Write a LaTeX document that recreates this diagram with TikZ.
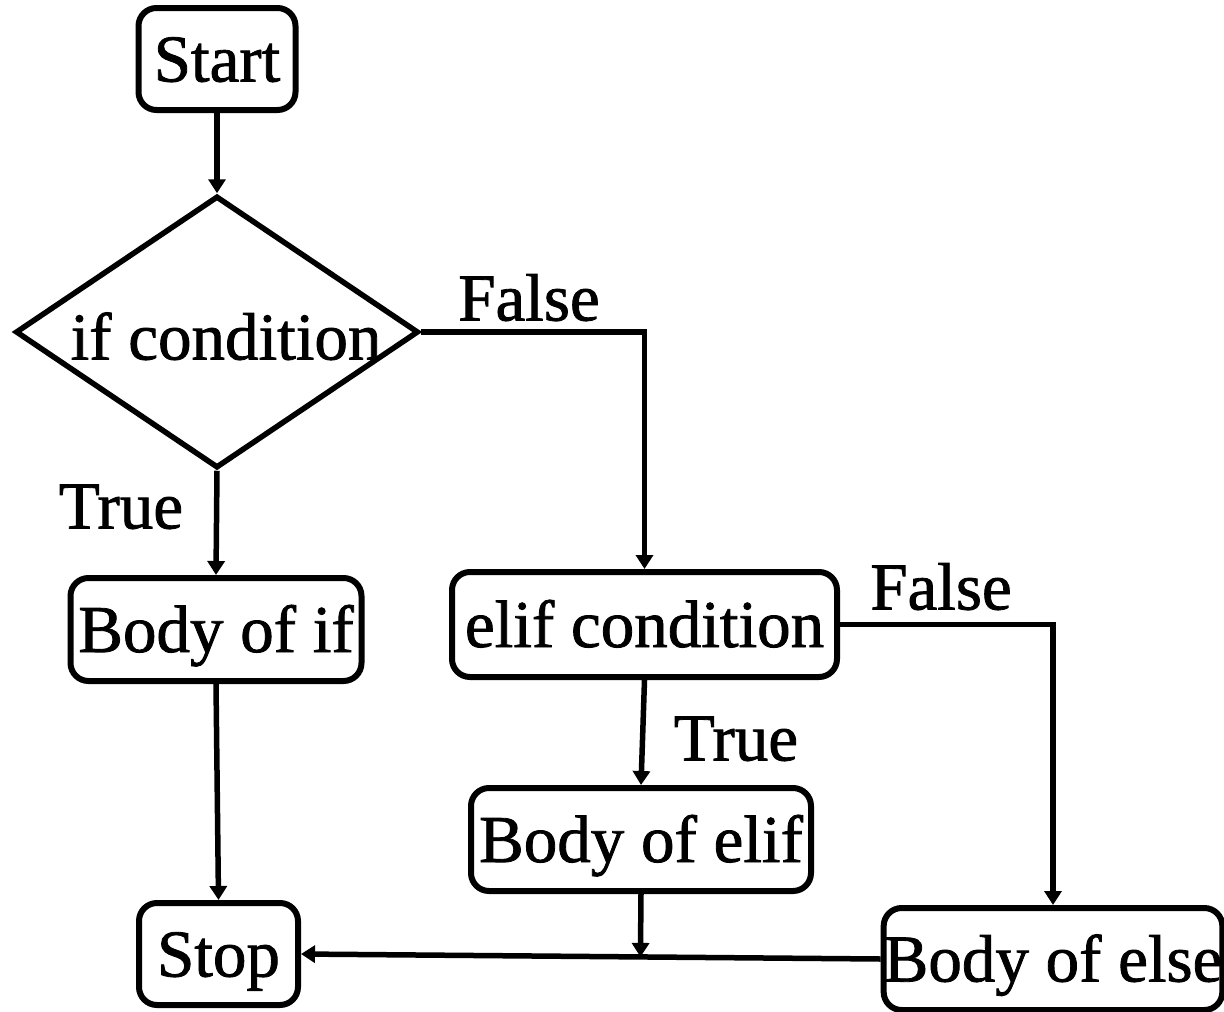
\documentclass[tikz,border=0pt]{standalone}
\usepackage{fontspec}
\setmainfont{Liberation Serif}[FakeBold=1.2]
\usetikzlibrary{arrows.meta,shapes.geometric,calc}

\tikzset{
  flowbox/.style={draw, line width=6pt, rounded corners=18pt, inner sep=0pt,
    text height=45pt, text depth=0pt, align=center},
  decision/.style={draw, diamond, line width=5.5pt, inner sep=0pt},
  flow/.style={line width=5.5pt, -{Triangle[length=14pt,width=17pt]}},
  boxtext/.style={inner sep=0pt, text height=45pt, text depth=0pt},
  branchlabel/.style={inner sep=0pt, text height=45pt, text depth=0pt}
}

\begin{document}
\begin{tikzpicture}[x=1pt, y=-1pt, font=\fontsize{67}{70}\selectfont]
  \useasboundingbox (0,0) rectangle (1224,1012);

  % boxes and decision
  \node[flowbox, minimum width=157pt, minimum height=102pt] (start) at (217,59) {Start};
  \node[decision, minimum width=403pt, minimum height=272pt] (ifcond) at (217,332) {};
  \node[boxtext] (iftext) at (226,337) {if condition};
  \node[flowbox, minimum width=291pt, minimum height=103pt] (ifbody) at (216,629.5) {Body of if};
  \node[flowbox, minimum width=385pt, minimum height=105pt] (elifcond) at (644.5,624.5) {elif condition};
  \node[flowbox, minimum width=340pt, minimum height=103pt] (elifbody) at (641,839.5) {Body of elif};
  \node[flowbox, minimum width=159pt, minimum height=102pt] (stop) at (218.5,954) {Stop};
  \node[flowbox, minimum width=338pt, minimum height=102pt] (elsebody) at (1053,959) {Body of else};

  % branch labels
  \node[branchlabel] (lfalse1) at (529,298) {False};
  \node[branchlabel] (ltrue1) at (121,506) {True};
  \node[branchlabel] (lfalse2) at (941,587) {False};
  \node[branchlabel] (ltrue2) at (736,738) {True};

  % connectors
  \draw[flow] (start.south) -- (ifcond.north);
  \draw[flow] (ifcond.east) -- (ifcond.east -| elifcond.north) -- (elifcond.north);
  \draw[flow] (ifcond.south) -- (ifbody.north);
  \draw[flow] (ifbody.south) -- (stop.north);
  \draw[flow] (elifcond.south) -- (elifbody.north);
  \draw[flow] (elifcond.east) -- (elifcond.east -| elsebody.north) -- (elsebody.north);
  \draw[flow] (elsebody.west) -- (stop.east);
  \coordinate (join) at ($(stop.east)!(elifbody.south)!(elsebody.west)$);
  \draw[flow] (elifbody.south) -- (join);
\end{tikzpicture}
\end{document}
